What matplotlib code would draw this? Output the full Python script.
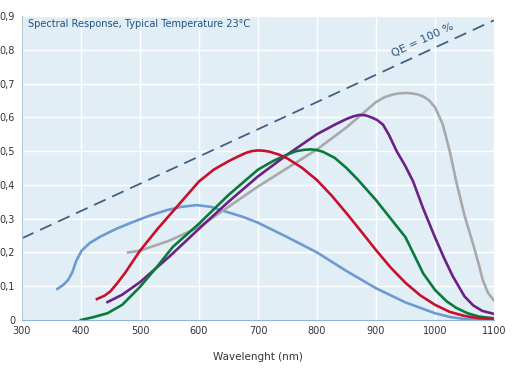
import matplotlib
matplotlib.use("Agg")
import matplotlib.pyplot as plt
import numpy as np

# spectral response curves (wavelength nm, A/W)
blue_x = [360, 370, 378, 385, 392, 401, 415, 432, 460, 488, 515, 545, 570, 596, 620, 647, 675, 700, 750, 800, 850, 900, 950, 1000, 1025, 1050, 1075, 1100]
blue_y = [0.092, 0.104, 0.118, 0.14, 0.175, 0.205, 0.228, 0.246, 0.27, 0.29, 0.308, 0.325, 0.335, 0.34, 0.335, 0.32, 0.305, 0.288, 0.245, 0.2, 0.145, 0.094, 0.052, 0.02, 0.009, 0.003, 0.001, 0.0]

red_x = [427, 440, 450, 462, 475, 500, 530, 560, 580, 600, 625, 650, 665, 680, 690, 700, 710, 720, 735, 750, 775, 800, 825, 850, 875, 900, 925, 950, 975, 1000, 1025, 1050, 1075, 1100]
red_y = [0.062, 0.072, 0.085, 0.11, 0.14, 0.205, 0.27, 0.33, 0.37, 0.41, 0.445, 0.47, 0.483, 0.495, 0.5, 0.502, 0.501, 0.498, 0.49, 0.478, 0.45, 0.414, 0.368, 0.316, 0.262, 0.207, 0.155, 0.11, 0.073, 0.045, 0.024, 0.012, 0.005, 0.003]

green_x = [400, 420, 445, 470, 500, 530, 556, 600, 650, 700, 725, 750, 765, 780, 790, 800, 810, 830, 850, 870, 900, 925, 950, 980, 1000, 1020, 1036, 1055, 1075, 1100]
green_y = [0.0, 0.008, 0.02, 0.045, 0.098, 0.16, 0.217, 0.285, 0.37, 0.445, 0.47, 0.49, 0.5, 0.504, 0.505, 0.503, 0.498, 0.48, 0.45, 0.414, 0.355, 0.3, 0.245, 0.138, 0.089, 0.055, 0.036, 0.02, 0.01, 0.005]

purple_x = [445, 470, 500, 550, 600, 650, 700, 750, 800, 830, 850, 862, 872, 882, 892, 902, 912, 922, 935, 950, 963, 980, 1000, 1015, 1030, 1050, 1065, 1080, 1100]
purple_y = [0.053, 0.075, 0.112, 0.188, 0.27, 0.35, 0.425, 0.49, 0.55, 0.578, 0.595, 0.603, 0.607, 0.606, 0.6, 0.592, 0.578, 0.548, 0.5, 0.455, 0.41, 0.33, 0.245, 0.185, 0.13, 0.07, 0.043, 0.027, 0.018]

gray_x = [480, 500, 550, 600, 650, 700, 750, 800, 850, 880, 900, 915, 930, 940, 950, 960, 970, 980, 990, 1000, 1013, 1025, 1036, 1050, 1064, 1075, 1081, 1090, 1100]
gray_y = [0.2, 0.205, 0.235, 0.275, 0.335, 0.395, 0.45, 0.505, 0.57, 0.615, 0.645, 0.66, 0.668, 0.671, 0.672, 0.671, 0.668, 0.662, 0.65, 0.63, 0.58, 0.5, 0.41, 0.31, 0.228, 0.16, 0.118, 0.08, 0.058]

qe_x = [300, 1100]

xticks = [300, 400, 500, 600, 700, 800, 900, 1000, 1100]
yticks = [0, 0.1, 0.2, 0.3, 0.4, 0.5, 0.6, 0.7, 0.8, 0.9]
ylabels = ["0", "0,1", "0,2", "0,3", "0,4", "0,5", "0,6", "0,7", "0,8", "0,9"]

fig = plt.figure(figsize=(5.16, 3.71), dpi=100)
ax = fig.add_axes([0.0426, 0.1375, 0.9147, 0.8195])
ax.set_facecolor("#e2eef6")

ax.plot(qe_x, [x / 1240 for x in qe_x], color="#3f6284", lw=1.3, dashes=(7, 4))
ax.plot(blue_x, blue_y, color="#6d9bd1", lw=1.9, solid_joinstyle="round")
ax.plot(gray_x, gray_y, color="#a9a9a9", lw=1.9, solid_joinstyle="round")
ax.plot(purple_x, purple_y, color="#6b2185", lw=1.9, solid_joinstyle="round")
ax.plot(green_x, green_y, color="#0a7a3c", lw=1.9, solid_joinstyle="round")
ax.plot(red_x, red_y, color="#c8102e", lw=1.9, solid_joinstyle="round")

ax.set_xlim(300, 1100)
ax.set_ylim(0, 0.9)
ax.set_xticks(xticks)
ax.set_yticks(yticks)
ax.set_yticklabels(ylabels)
ax.grid(True, color="white", lw=1.0)
ax.set_axisbelow(True)
ax.tick_params(length=0, labelsize=7, colors="#333333", pad=4)
ax.tick_params(axis="y", pad=5)
for s in ["top", "right"]:
    ax.spines[s].set_visible(False)
ax.spines["left"].set_color("#b5c3cf")
ax.spines["bottom"].set_color("#8fb4d8")

ax.text(310, 0.875, "Spectral Response, Typical Temperature 23°C", fontsize=7,
        color="#1f5082", va="center", ha="left")
ax.text(980, 0.828, "QE = 100 %", fontsize=8, color="#2b557f", rotation=25,
        ha="center", va="center")
ax.set_xlabel("Wavelenght (nm)", fontsize=7.5, color="#333333", labelpad=12)

fig.savefig("out.png", dpi=100)
